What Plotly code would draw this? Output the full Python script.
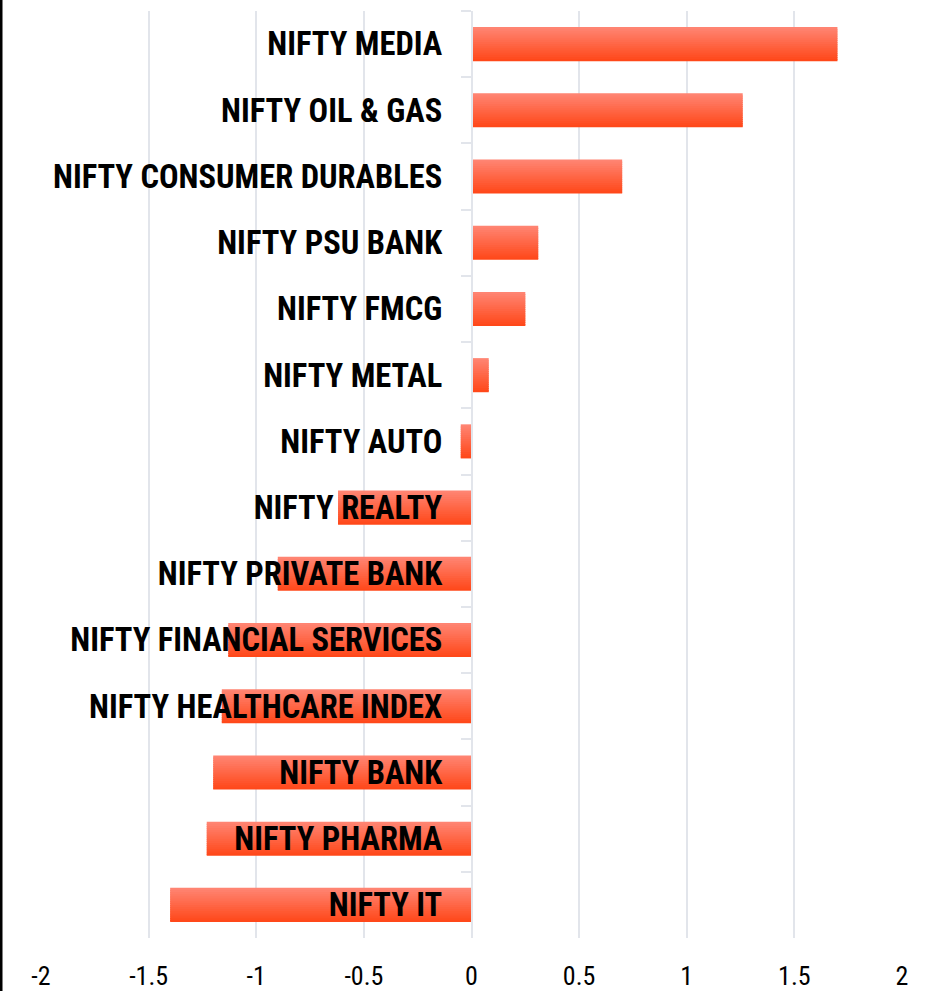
import plotly.graph_objects as go

categories = ["NIFTY MEDIA", "NIFTY OIL & GAS", "NIFTY CONSUMER DURABLES", "NIFTY PSU BANK",
              "NIFTY FMCG", "NIFTY METAL", "NIFTY AUTO", "NIFTY REALTY", "NIFTY PRIVATE BANK",
              "NIFTY FINANCIAL SERVICES", "NIFTY HEALTHCARE INDEX", "NIFTY BANK",
              "NIFTY PHARMA", "NIFTY IT"]
values = [1.70, 1.26, 0.70, 0.31, 0.25, 0.08, -0.05, -0.62, -0.90, -1.13, -1.16, -1.20, -1.23, -1.40]
x_tickvals = [-2, -1.5, -1, -0.5, 0, 0.5, 1, 1.5, 2]
x_ticktext = ["-2", "-1.5", "-1", "-0.5", "0", "0.5", "1", "1.5", "2"]

FONT = "Roboto Condensed, Archivo Narrow, Roboto, sans-serif"
GRID = "#e2e5eb"

top_rgb = (255, 132, 114)
bot_rgb = (255, 72, 26)
N = 16
W = 0.515
step = W / N

fig = go.Figure()
for i in range(N):
    t = i / (N - 1)
    c = tuple(round(top_rgb[k] + (bot_rgb[k] - top_rgb[k]) * t) for k in range(3))
    w = step if i == N - 1 else step * 1.6
    fig.add_trace(go.Bar(
        y=categories, x=values, orientation="h",
        width=w, offset=-W / 2 + i * step,
        marker=dict(color="rgb(%d,%d,%d)" % c, line=dict(width=0)),
        showlegend=False, hoverinfo="skip",
    ))

fig.update_layout(
    width=934, height=991,
    margin=dict(l=41, r=32, t=11, b=53, autoexpand=False),
    paper_bgcolor="white", plot_bgcolor="white",
    barmode="overlay",
    font=dict(family=FONT, color="black"),
    xaxis=dict(range=[-2, 2], tickvals=x_tickvals, ticktext=x_ticktext,
               showgrid=True, gridcolor=GRID, gridwidth=1.5, zeroline=False,
               showline=False, ticks="", tickfont=dict(size=26, family=FONT),
               ticklabelstandoff=20, automargin=False, fixedrange=True),
    yaxis=dict(type="category", categoryorder="array", categoryarray=categories,
               range=[len(categories) - 0.5, -0.5],
               anchor="free", position=0.5, automargin=False,
               showline=True, linecolor=GRID, linewidth=1.5,
               ticks="outside", ticklen=10, tickcolor=GRID, tickwidth=1.5,
               tickson="boundaries", showgrid=False,
               tickfont=dict(size=32.5, family=FONT, weight="bold"),
               ticklabelstandoff=22),
    shapes=[dict(type="line", xref="paper", yref="paper", x0=-40 / 861, x1=-40 / 861,
                 y0=-1, y1=2, line=dict(color="black", width=3))],
)

fig.write_html("out.html")
